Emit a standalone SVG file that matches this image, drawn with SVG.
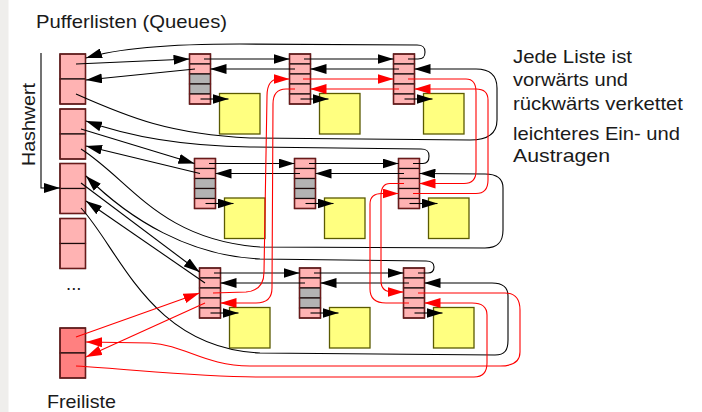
<svg xmlns="http://www.w3.org/2000/svg" width="702" height="412" viewBox="0 0 702 412">
<style>
.t{font-family:"Liberation Sans",Arial,sans-serif;font-size:18.5px;fill:#1a1a1a}
.pk{fill:#ffb3b3;stroke:#1a0a0a;stroke-width:1.2}
.gr{fill:#b3b3b3;stroke:#1a0a0a;stroke-width:1.2}
.fl{fill:#ff8080;stroke:#1a0a0a;stroke-width:1.2}
.ob{fill:none;stroke:#6a1a1a;stroke-width:1.4}
.yl{fill:#ffff80;stroke:#5a5a00;stroke-width:1.3}
.k{fill:none;stroke:#000;stroke-width:1.1;marker-end:url(#ak)}
.kn{fill:none;stroke:#000;stroke-width:1.1}
.r{fill:none;stroke:#ff0000;stroke-width:1.1;marker-end:url(#ar)}
</style>
<defs>
<marker id="ak" markerUnits="userSpaceOnUse" markerWidth="16" markerHeight="10" refX="16" refY="5" orient="auto"><path d="M0,0 L16,5 L0,10 z" fill="#000"/></marker>
<marker id="ar" markerUnits="userSpaceOnUse" markerWidth="16" markerHeight="10" refX="16" refY="5" orient="auto"><path d="M0,0 L16,5 L0,10 z" fill="#ff0000"/></marker>
</defs>
<rect x="0" y="0" width="702" height="412" fill="#ffffff"/>
<rect x="0" y="0" width="8.5" height="412" fill="#efeeec"/>

<text class="t" x="36" y="28" textLength="191" lengthAdjust="spacingAndGlyphs">Pufferlisten (Queues)</text>
<text class="t" transform="translate(35,166) rotate(-90)" x="0" y="0" textLength="83" lengthAdjust="spacingAndGlyphs">Hashwert</text>
<text class="t" x="513" y="62.5" textLength="119" lengthAdjust="spacingAndGlyphs">Jede Liste ist</text>
<text class="t" x="513" y="85.5" textLength="115" lengthAdjust="spacingAndGlyphs">vorwärts und</text>
<text class="t" x="513" y="110" textLength="170" lengthAdjust="spacingAndGlyphs">rückwärts verkettet</text>
<text class="t" x="513" y="139.5" textLength="167" lengthAdjust="spacingAndGlyphs">leichteres Ein- und</text>
<text class="t" x="513" y="162" textLength="97" lengthAdjust="spacingAndGlyphs">Austragen</text>
<text class="t" x="47" y="408" textLength="69" lengthAdjust="spacingAndGlyphs">Freiliste</text>
<text class="t" x="66" y="290">...</text>

<!-- hash table -->
<g id="hash1" transform="translate(60,54)"><rect class="pk" width="25.5" height="25"/><rect class="pk" y="25" width="25.5" height="25"/><rect class="ob" width="25.5" height="50"/></g>
<g id="hash2" transform="translate(60,109)"><rect class="pk" width="25.5" height="25"/><rect class="pk" y="25" width="25.5" height="25"/><rect class="ob" width="25.5" height="50"/></g>
<g id="hash3" transform="translate(60,163.5)"><rect class="pk" width="25.5" height="25"/><rect class="pk" y="25" width="25.5" height="25"/><rect class="ob" width="25.5" height="50"/></g>
<g id="hash4" transform="translate(60,218.5)"><rect class="pk" width="25.5" height="25"/><rect class="pk" y="25" width="25.5" height="25"/><rect class="ob" width="25.5" height="50"/></g>
<g id="freiliste" transform="translate(60,328)"><rect class="fl" width="25.5" height="25"/><rect class="fl" y="25" width="25.5" height="25"/><rect class="ob" width="25.5" height="50"/></g>

<!-- list nodes -->
<g id="a1" transform="translate(189.5,54)"><rect class="yl" x="30" y="39.5" width="40.5" height="40.5"/><rect class="pk" width="21" height="10"/><rect class="pk" y="10" width="21" height="10"/><rect class="gr" y="20" width="21" height="10"/><rect class="gr" y="30" width="21" height="10"/><rect class="pk" y="40" width="21" height="10"/><rect class="ob" width="21" height="50"/></g>
<g id="b1" transform="translate(289.5,54)"><rect class="yl" x="30" y="39.5" width="40.5" height="40.5"/><rect class="pk" width="21" height="10"/><rect class="pk" y="10" width="21" height="10"/><rect class="pk" y="20" width="21" height="10"/><rect class="pk" y="30" width="21" height="10"/><rect class="pk" y="40" width="21" height="10"/><rect class="ob" width="21" height="50"/></g>
<g id="c1" transform="translate(393.5,54)"><rect class="yl" x="30" y="39.5" width="40.5" height="40.5"/><rect class="pk" width="21" height="10"/><rect class="pk" y="10" width="21" height="10"/><rect class="pk" y="20" width="21" height="10"/><rect class="pk" y="30" width="21" height="10"/><rect class="pk" y="40" width="21" height="10"/><rect class="ob" width="21" height="50"/></g>
<g id="a2" transform="translate(194.5,158.5)"><rect class="yl" x="30" y="39.5" width="40.5" height="40.5"/><rect class="pk" width="21" height="10"/><rect class="pk" y="10" width="21" height="10"/><rect class="gr" y="20" width="21" height="10"/><rect class="gr" y="30" width="21" height="10"/><rect class="pk" y="40" width="21" height="10"/><rect class="ob" width="21" height="50"/></g>
<g id="b2" transform="translate(294.5,158.5)"><rect class="yl" x="30" y="39.5" width="40.5" height="40.5"/><rect class="pk" width="21" height="10"/><rect class="pk" y="10" width="21" height="10"/><rect class="gr" y="20" width="21" height="10"/><rect class="gr" y="30" width="21" height="10"/><rect class="pk" y="40" width="21" height="10"/><rect class="ob" width="21" height="50"/></g>
<g id="c2" transform="translate(398.5,158.5)"><rect class="yl" x="30" y="39.5" width="40.5" height="40.5"/><rect class="pk" width="21" height="10"/><rect class="pk" y="10" width="21" height="10"/><rect class="pk" y="20" width="21" height="10"/><rect class="pk" y="30" width="21" height="10"/><rect class="pk" y="40" width="21" height="10"/><rect class="ob" width="21" height="50"/></g>
<g id="a3" transform="translate(199.5,268)"><rect class="yl" x="30" y="39.5" width="40.5" height="40.5"/><rect class="pk" width="21" height="10"/><rect class="pk" y="10" width="21" height="10"/><rect class="pk" y="20" width="21" height="10"/><rect class="pk" y="30" width="21" height="10"/><rect class="pk" y="40" width="21" height="10"/><rect class="ob" width="21" height="50"/></g>
<g id="b3" transform="translate(299.5,268)"><rect class="yl" x="30" y="39.5" width="40.5" height="40.5"/><rect class="pk" width="21" height="10"/><rect class="pk" y="10" width="21" height="10"/><rect class="gr" y="20" width="21" height="10"/><rect class="gr" y="30" width="21" height="10"/><rect class="pk" y="40" width="21" height="10"/><rect class="ob" width="21" height="50"/></g>
<g id="c3" transform="translate(403.5,268)"><rect class="yl" x="30" y="39.5" width="40.5" height="40.5"/><rect class="pk" width="21" height="10"/><rect class="pk" y="10" width="21" height="10"/><rect class="pk" y="20" width="21" height="10"/><rect class="pk" y="30" width="21" height="10"/><rect class="pk" y="40" width="21" height="10"/><rect class="ob" width="21" height="50"/></g>

<g id="connectors">
<!-- Hashwert bracket -->
<path class="k" d="M41,53 L41,188 L60,188"/>
<!-- row 1 -->
<path class="k" d="M76,64 L189.5,59"/>
<path class="k" d="M195,69 L86,80"/>
<path class="k" d="M204,59 L289.5,59"/>
<path class="k" d="M295,69 L210.5,69"/>
<path class="k" d="M304,59 L393.5,59"/>
<path class="k" d="M399,69 L310.5,69"/>
<path class="k" d="M200.5,99 L228.5,99"/>
<path class="k" d="M300.5,99 L328.5,99"/>
<path class="k" d="M404.5,99 L432.5,99"/>
<path class="k" d="M408,59 L418,59 C424,59 425,56 425,52 C425,47 423,45 417,45 L240,44 C160,44 115,49 86,58"/>
<path class="k" d="M76,94 C130,118 170,134 250,138 L470,140 C488,140 497,134 497,120 L497,88 C497,75 490,69 476,69 L414.5,69"/>
<!-- row 2 -->
<path class="k" d="M81,129 L194.5,163.5"/>
<path class="k" d="M200,173.5 L86,146"/>
<path class="k" d="M209,163.5 L294.5,163.5"/>
<path class="k" d="M300,173.5 L215.5,173.5"/>
<path class="k" d="M309,163.5 L398.5,163.5"/>
<path class="k" d="M404,173.5 L315.5,173.5"/>
<path class="k" d="M205.5,203.5 L233.5,203.5"/>
<path class="k" d="M305.5,203.5 L333.5,203.5"/>
<path class="k" d="M409.5,203.5 L437.5,203.5"/>
<path class="k" d="M413,163.5 L423,163.5 C428,163.5 429,160 429,156 C429,151 427,149 421,149 L250,147 C180,146 130,137 86,121"/>
<path class="k" d="M81,149 C130,180 160,240 260,247 L485,248 C498,248 503,242 503,230 L503,188 C503,178 497,174 485,174 L419.5,173.5"/>
<!-- row 3 -->
<path class="k" d="M81,183 L199.5,272"/>
<path class="k" d="M205,283 L86,201"/>
<path class="k" d="M214,273 L299.5,273"/>
<path class="k" d="M305,283 L220.5,283"/>
<path class="k" d="M314,273 L403.5,273"/>
<path class="k" d="M409,283 L320.5,283"/>
<path class="k" d="M210.5,313 L238.5,313"/>
<path class="k" d="M310.5,313 L338.5,313"/>
<path class="k" d="M414.5,313 L442.5,313"/>
<path class="k" d="M418,273 L428,273 C433,273 434,270 434,267 C434,263 432,261 426,261 L260,259 C190,256 130,220 86,176"/>
<path class="k" d="M81,208 C120,250 150,348 260,353 L495,355 C505,355 508,350 508,340 L508,296 C508,287 503,283 492,283 L424.5,283"/>
<!-- free list (red) -->
<path class="r" d="M76,337 L199.5,293"/>
<path class="r" d="M205,303 L86,357"/>
<path class="r" d="M213,293 L246,292 C258,291 264,284 264,272 L267,96 C267,85 271,79 279,79 L289.5,79"/>
<path class="r" d="M295,89 L286,89 C278,89 273,94 273,104 L272,288 C272,298 267,303 256,303 L220.5,303"/>
<path class="r" d="M303,79 L393.5,79"/>
<path class="r" d="M399,89 L310.5,89"/>
<path class="r" d="M408,79 L466,79 C473,79 476,84 476,92 L476,171 C476,179 472,183.5 464,183.5 L419.5,183.5"/>
<path class="r" d="M413,193.5 L476,193.5 C484,193.5 488,189 488,180 L488,100 C488,93 484,89 476,89 L414.5,89"/>
<path class="r" d="M404,183.5 L390,183.5 C384,183.5 381,188 381,196 L381,281 C381,288 385,292 393,292 L403.5,292"/>
<path class="r" d="M409,303 L386,303 C375,303 370,298 370,289 L370,204 C370,197 374,193.5 382,193.5 L398.5,193.5"/>
<path class="r" d="M418,293 L505,293 C515,293 520,299 520,310 L520,352 C520,361 514,366 500,366 L250,366 C205,366 185,345 150,343 L86,342"/>
<path class="r" d="M76,366 C140,370 200,377 260,377 L474,377 C483,377 487,372 487,363 L487,315 C487,307 482,303 472,303 L424.5,303"/>
</g>
</svg>
